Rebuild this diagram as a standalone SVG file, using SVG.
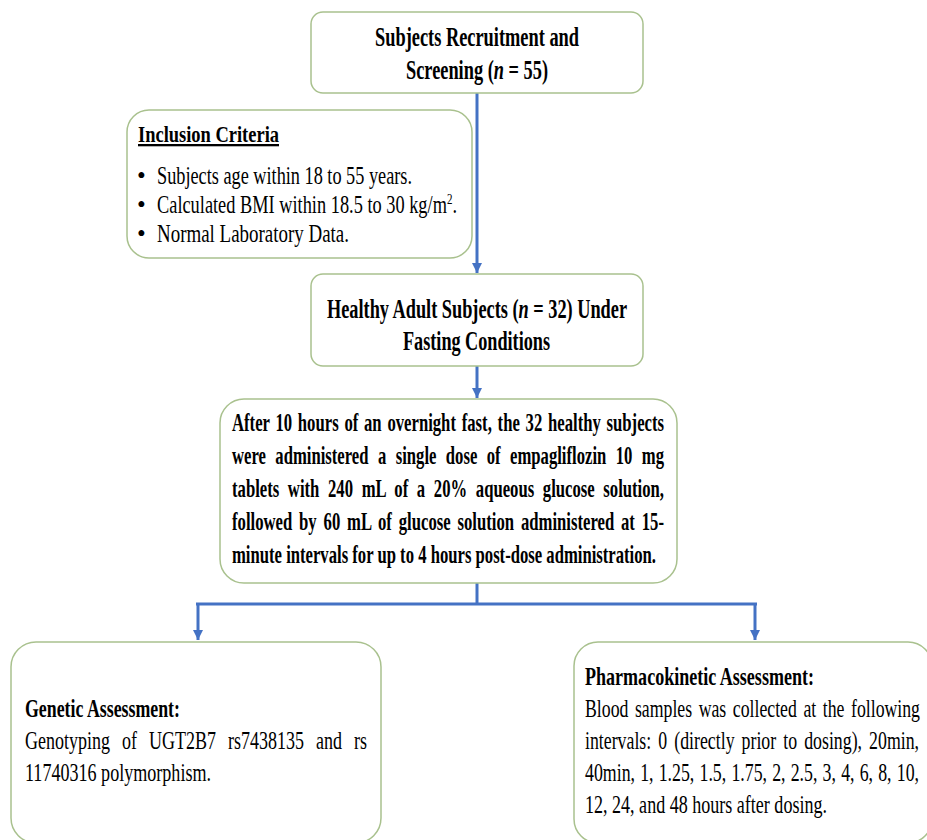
<svg xmlns="http://www.w3.org/2000/svg" width="927" height="840" viewBox="0 0 927 840">
<defs>
<marker id="ah" markerUnits="userSpaceOnUse" markerWidth="10" markerHeight="12" refX="10" refY="5" orient="auto" viewBox="0 0 10 10">
<path d="M0,0 L10,5 L0,10 z" fill="#4472C4"/>
</marker>
<style>
.box{fill:#ffffff;stroke:#A9C18E;stroke-width:1.5}
text{font-family:"Liberation Serif","Times New Roman",serif;fill:#000;font-variant-ligatures:none}
.tb{font-weight:bold;font-size:27px}
.pb{font-weight:bold;font-size:25px}
.hb{font-weight:bold;font-size:25px}
.rg{font-size:25px}
.con{fill:none;stroke:#4472C4;stroke-width:3}
</style>
</defs>
<rect width="927" height="840" fill="#ffffff"/>
<g id="connectors">
<path class="con" d="M477,93 V273" marker-end="url(#ah)"/>
<path class="con" d="M477,366 V398" marker-end="url(#ah)"/>
<path class="con" d="M477,583 V604"/>
<path class="con" d="M196,604 H757" stroke-width="4.5"/>
<path class="con" d="M198,604 V640" marker-end="url(#ah)"/>
<path class="con" d="M755,604 V640" marker-end="url(#ah)"/>
</g>
<g id="recruitment">
<rect class="box" x="311" y="12" width="332" height="81" rx="12"/>
<text class="tb" x="375" y="46" textLength="204" lengthAdjust="spacingAndGlyphs">Subjects Recruitment and</text>
<text class="tb" x="406" y="79" textLength="142" lengthAdjust="spacingAndGlyphs">Screening (<tspan font-style="italic">n</tspan> = 55)</text>
</g>
<g id="inclusion">
<rect class="box" x="127" y="110" width="345" height="148" rx="22"/>
<text font-weight="bold" font-size="23" x="138" y="142" textLength="141" lengthAdjust="spacingAndGlyphs" text-decoration="underline">Inclusion Criteria</text>
<text class="rg" x="137" y="184">•</text>
<text class="rg" x="157" y="184" textLength="255" lengthAdjust="spacingAndGlyphs">Subjects age within 18 to 55 years.</text>
<text class="rg" x="137" y="213">•</text>
<text class="rg" x="157" y="213" textLength="300" lengthAdjust="spacingAndGlyphs">Calculated BMI within 18.5 to 30 kg/m<tspan font-size="15" dy="-9">2</tspan><tspan dy="9">.</tspan></text>
<text class="rg" x="137" y="242">•</text>
<text class="rg" x="157" y="242" textLength="192" lengthAdjust="spacingAndGlyphs">Normal Laboratory Data.</text>
</g>
<g id="healthy">
<rect class="box" x="311" y="274" width="332" height="92" rx="12"/>
<text class="tb" x="327" y="318" textLength="300" lengthAdjust="spacingAndGlyphs">Healthy Adult Subjects (<tspan font-style="italic">n</tspan> = 32) Under</text>
<text class="tb" x="403" y="350" textLength="147" lengthAdjust="spacingAndGlyphs">Fasting Conditions</text>
</g>
<g id="dosing">
<rect class="box" x="220" y="399" width="457" height="184" rx="24"/>
<text class="pb" x="232" y="431" textLength="432" lengthAdjust="spacingAndGlyphs" style="word-spacing:2.4px">After 10 hours of an overnight fast, the 32 healthy subjects</text>
<text class="pb" x="232" y="464" textLength="432" lengthAdjust="spacingAndGlyphs" style="word-spacing:7.9px">were administered a single dose of empagliflozin 10 mg</text>
<text class="pb" x="232" y="497" textLength="432" lengthAdjust="spacingAndGlyphs" style="word-spacing:6.7px">tablets with 240 mL of a 20% aqueous glucose solution,</text>
<text class="pb" x="232" y="530" textLength="432" lengthAdjust="spacingAndGlyphs" style="word-spacing:4px">followed by 60 mL of glucose solution administered at 15-</text>
<text class="pb" x="232" y="563" textLength="424" lengthAdjust="spacingAndGlyphs">minute intervals for up to 4 hours post-dose administration.</text>
</g>
<g id="genetic">
<rect class="box" x="11" y="642" width="370" height="201" rx="25"/>
<text class="hb" x="25" y="717" textLength="155" lengthAdjust="spacingAndGlyphs">Genetic Assessment:</text>
<text class="rg" x="25" y="749" textLength="342" lengthAdjust="spacingAndGlyphs" style="word-spacing:10.5px">Genotyping of UGT2B7 rs7438135 and rs</text>
<text class="rg" x="25" y="781" textLength="186" lengthAdjust="spacingAndGlyphs">11740316 polymorphism.</text>
</g>
<g id="pharmacokinetic">
<rect class="box" x="574" y="642" width="358" height="201" rx="24"/>
<text class="hb" x="585" y="685" textLength="229" lengthAdjust="spacingAndGlyphs">Pharmacokinetic Assessment:</text>
<text class="rg" x="585" y="717" textLength="335" lengthAdjust="spacingAndGlyphs" style="word-spacing:3px">Blood samples was collected at the following</text>
<text class="rg" x="585" y="749" textLength="334" lengthAdjust="spacingAndGlyphs" style="word-spacing:3.7px">intervals: 0 (directly prior to dosing), 20min,</text>
<text class="rg" x="585" y="781" textLength="334" lengthAdjust="spacingAndGlyphs" style="word-spacing:1px">40min, 1, 1.25, 1.5, 1.75, 2, 2.5, 3, 4, 6, 8, 10,</text>
<text class="rg" x="585" y="813" textLength="242" lengthAdjust="spacingAndGlyphs">12, 24, and 48 hours after dosing.</text>
</g>
</svg>
